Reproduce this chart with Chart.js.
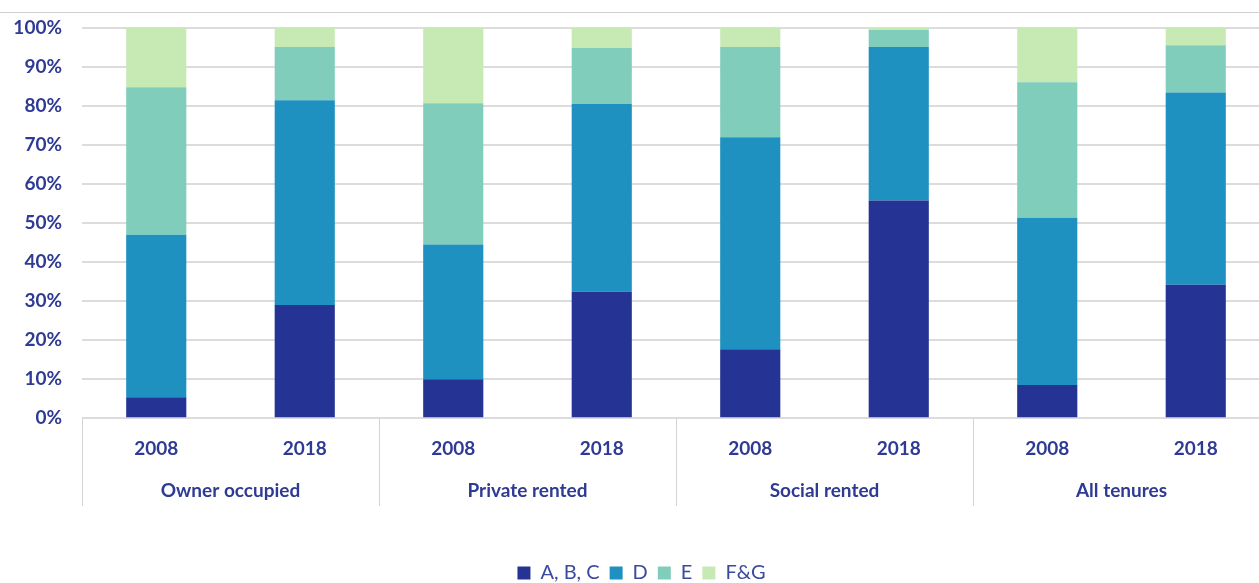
<!DOCTYPE html>
<html>
<head>
<meta charset="utf-8">
<script src="https://cdn.jsdelivr.net/npm/chart.js@4.4.0/dist/chart.umd.min.js"></script>
<style>
  html, body { margin: 0; padding: 0; background: #fff; overflow: hidden; }
  #topRule { position: absolute; left: 0; top: 12px; width: 1259px; border-top: 1px solid #cfcfcf; }
  #wrap { position: absolute; left: 0; top: 0; width: 1270px; height: 583px; }
</style>
</head>
<body>
<div id="topRule"></div>
<div id="wrap"><canvas id="bandChart"></canvas></div>
<script>
// EPC bands by tenure, 2008 vs 2018 (percent of dwellings)
var tenures = ['Owner occupied', 'Private rented', 'Social rented', 'All tenures'];
var years = ['2008', '2018', '2008', '2018', '2008', '2018', '2008', '2018'];

var bandABC = [5.4, 29.0, 10.0, 32.4, 17.7, 55.8, 8.5, 34.2];
var bandD   = [41.6, 52.5, 34.5, 48.1, 54.3, 39.3, 42.9, 49.3];
var bandE   = [37.8, 13.6, 36.2, 14.4, 23.1, 4.4, 34.7, 12.1];
var bandFG  = [15.2, 4.9, 19.3, 5.1, 4.9, 0.5, 13.9, 4.4];

var navy = '#2e3a94';
var dividerDrop = 27; // how far the group separators run below the tenure row top

// vertical separators between tenure groups, running through both label rows
var groupLines = {
  id: 'groupLines',
  afterDraw: function (chart) {
    var x = chart.scales.x, x2 = chart.scales.x2, ctx = chart.ctx;
    var half = (x.getPixelForValue(1) - x.getPixelForValue(0)) / 2;
    ctx.save();
    ctx.strokeStyle = '#d4d4d4';
    ctx.lineWidth = 1;
    for (var i = 0; i <= years.length; i += 2) {
      var px = Math.round(x.getPixelForValue(i) - half) + 0.5;
      ctx.beginPath();
      ctx.moveTo(px, x.top);
      ctx.lineTo(px, x2.top + dividerDrop);
      ctx.stroke();
    }
    ctx.restore();
  }
};

var ctxB = document.getElementById('bandChart').getContext('2d');

var bandChart = new Chart(ctxB, {
  type: 'bar',
  data: {
    labels: years,
    datasets: [
      { label: 'A, B, C', data: bandABC, backgroundColor: '#253494' },
      { label: 'D', data: bandD, backgroundColor: '#1f91c0' },
      { label: 'E', data: bandE, backgroundColor: '#81cdbc' },
      { label: 'F&G', data: bandFG, backgroundColor: '#c7e9b4' }
    ]
  },
  options: {
    responsive: true,
    maintainAspectRatio: false,
    animation: false,
    datasets: { bar: { barPercentage: 0.405, categoryPercentage: 1 } },
    layout: { padding: { top: 28, left: 13, right: 0, bottom: -10 } },
    scales: {
      x: {
        stacked: true,
        weight: 0,
        grid: { display: false, drawTicks: false },
        border: { display: false },
        ticks: { color: navy, padding: 19, font: { family: 'Lato', size: 19, weight: 'bold' } }
      },
      x2: {
        type: 'category',
        labels: tenures,
        position: 'bottom',
        offset: true,
        weight: 1,
        grid: { display: false, drawTicks: false },
        border: { display: false },
        ticks: { color: navy, padding: 0, font: { family: 'Lato', size: 19, weight: 'bold' } },
        afterFit: function (scale) { scale.height = 74; }
      },
      y: {
        stacked: true,
        min: 0,
        max: 100,
        border: { display: false },
        grid: { color: '#dcdcdc', lineWidth: 2, drawTicks: false },
        ticks: {
          stepSize: 10,
          padding: 20,
          color: navy,
          font: { family: 'Lato', size: 19, weight: 'bold' },
          callback: function (v) { return v + '%'; }
        },
        afterFit: function (scale) {
          scale.width = 69;
          scale.paddingTop = 0;
        }
      }
    },
    plugins: {
      tooltip: { enabled: false },
      legend: {
        position: 'bottom',
        labels: {
          boxWidth: 13,
          boxHeight: 13,
          padding: 10,
          color: '#3a4aa0',
          font: { family: 'Lato', size: 20 }
        }
      }
    }
  },
  plugins: [groupLines]
});
</script>
</body>
</html>
